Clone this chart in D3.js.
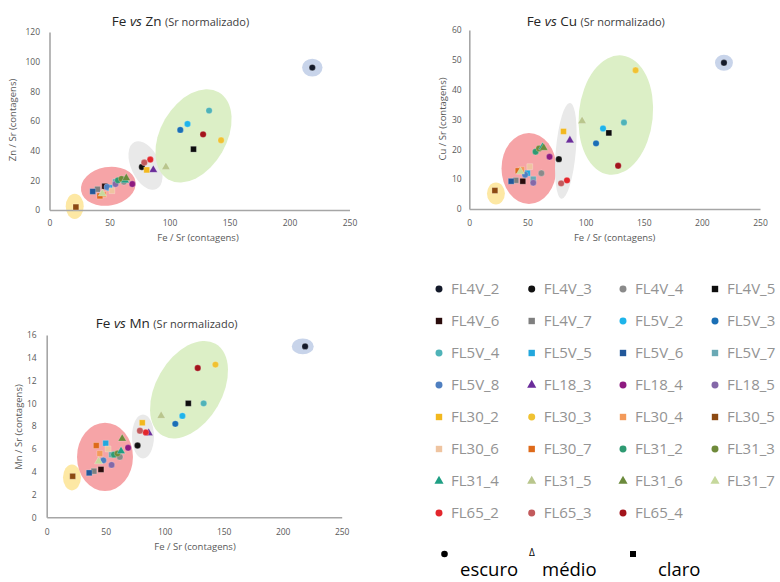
<!DOCTYPE html>
<html>
<head>
<meta charset="utf-8">
<script src="https://cdn.jsdelivr.net/npm/d3@7/dist/d3.min.js"></script>
<style>
  html, body { margin: 0; padding: 0; background: #fff; }
  svg { display: block; font-family: "Open Sans", "Lato", sans-serif; }
</style>
</head>
<body>
<svg id="chart" width="780" height="582"></svg>
<script>
// Samples (Sr-normalised XRF counts)
const samples = ["FL4V_2","FL4V_3","FL4V_4","FL4V_5","FL4V_6","FL4V_7",
  "FL5V_2","FL5V_3","FL5V_4","FL5V_5","FL5V_6","FL5V_7","FL5V_8",
  "FL18_3","FL18_4","FL18_5",
  "FL30_2","FL30_3","FL30_4","FL30_5","FL30_6","FL30_7",
  "FL31_2","FL31_3","FL31_4","FL31_5","FL31_6","FL31_7",
  "FL65_2","FL65_3","FL65_4"];

const feSr = [219, 77, 62, 120, 46, 40, 115, 109, 133, 50, 36, 55, 48, 86.5, 69, 55,
  81, 143, 45, 22, 52, 42, 57, 60, 63, 97, 64, 44, 84, 79, 128];
const znSr = [96, 29, 19, 41, 16, 14, 58, 54, 67, 15, 12.5, 19, 15.5, 27, 17.5, 17.5,
  27, 47, 10.5, 2, 13, 9.5, 20, 21, 20, 29, 21.5, 11, 34, 32, 51];
const cuSr = [49, 16.7, 12, 25.5, 9.3, 9.6, 27, 22, 29, 12, 9.3, 10, 11.5, 23, 17.5, 8.8,
  26, 46.5, 13.2, 6.2, 14.2, 12.8, 19.2, 20.3, 20.8, 29.5, 20.5, 12.5, 9.6, 8.6, 14.5];
const mnSr = [15, 6.3, 5.3, 10, 4.2, 4.05, 8.9, 8.2, 10, 6.5, 3.9, 5.5, 5.0, 7.4, 6.1, 4.6,
  8.3, 13.4, 5.6, 3.6, 6.0, 6.3, 5.5, 5.6, 5.8, 8.9, 6.9, 4.9, 7.45, 7.6, 13.1];

// marker shape: c = escuro (circle), t = médio (triangle), s = claro (square)
const shapes = ["c","c","c","s","s","s","c","c","c","s","s","s","c","t","c","c",
  "s","c","s","s","s","s","c","c","t","t","t","t","c","c","c"];
const colors = ["#141a2a","#111111","#8a8a8a","#0d0d0d","#2a0c0c","#7f7f7f",
  "#1eb4ea","#1a6fb5","#4fb3b8","#23a7dd","#22589a","#6aa9b5","#4f7fc0",
  "#6a2c9a","#8e1a80","#8468a8",
  "#f2b81e","#f0c232","#f39a5a","#8c4a12","#efc4a0","#de6a1a",
  "#2e9a72","#6f8a3a","#1f9f84","#b9c68c","#6b8a3c","#c6d89c",
  "#e3262c","#c25a5c","#a3141c"];

const xTicks = [0, 50, 100, 150, 200, 250];
const groupFills = ["#fde8a4", "#f6a4a7", "#e9e9e9", "#dcefc6", "#c8d4ea"];

// group outlines in data units: [centre Fe, centre Y, half-width Fe, half-height Y, tilt deg]
const znGroups = [[21, 2.5, 7.5, 8.5, 0], [49, 16, 23, 13, -10], [80, 30, 12, 17.5, -25],
  [120, 50, 27.5, 34, 30], [219, 96, 8.5, 6, 0]];
const cuGroups = [[22.9, 5.2, 7.7, 3.7, 0], [51.3, 13.6, 23.6, 11.9, 0], [83, 19.5, 8.6, 16.1, 5],
  [126, 31.5, 31.8, 20.1, 6], [219, 49, 7.7, 2.7, 0]];
const mnGroups = [[21.4, 3.5, 7.6, 1.14, 0], [49.4, 5.3, 23.7, 3.0, 0], [81.6, 7.1, 9.3, 1.93, 0],
  [120.6, 11.2, 28, 4.65, 30], [217, 15, 9.3, 0.7, 0]];

const svg = d3.select("#chart");

const panels = [
  { el: "Zn", vals: znSr, groups: znGroups, yMax: 120, yTicks: d3.range(0, 121, 20),
    left: 49.5, right: 349.5, top: 32, bottom: 210,
    titleX: 180.5, titleY: 26, yTitleX: 16, yTitleY: 120, xTitleX: 198, xTitleY: 241,
    yLabelX: 40, xLabelY: 226, gap: " " },
  { el: "Cu", vals: cuSr, groups: cuGroups, yMax: 60, yTicks: d3.range(0, 61, 10),
    left: 469.3, right: 760, top: 30, bottom: 209,
    titleX: 595.7, titleY: 26, yTitleX: 446, yTitleY: 119, xTitleX: 614.7, xTitleY: 241,
    yLabelX: 461.7, xLabelY: 226, gap: "  " },
  { el: "Mn", vals: mnSr, groups: mnGroups, yMax: 16, yTicks: d3.range(0, 17, 2),
    left: 46.7, right: 341.7, top: 335, bottom: 517.3,
    titleX: 166.7, titleY: 328.3, yTitleX: 22, yTitleY: 427, xTitleX: 195, xTitleY: 550,
    yLabelX: 36.7, xLabelY: 535, gap: "  " }
];

const symbolFor = { c: d3.symbolCircle, s: d3.symbolSquare, t: d3.symbolTriangle };
const sizeFor = { c: 32, s: 34, t: 30 };

panels.forEach(p => {
  const x = d3.scaleLinear().domain([0, 250]).range([p.left, p.right]);
  const y = d3.scaleLinear().domain([0, p.yMax]).range([p.bottom, p.top]);
  const g = svg.append("g");

  // group ellipses
  const kx = x(1) - x(0), ky = y(0) - y(1);
  g.selectAll("ellipse").data(p.groups).join("ellipse")
    .attr("transform", d => `translate(${x(d[0])},${y(d[1])}) rotate(${d[4]})`)
    .attr("rx", d => d[2] * kx)
    .attr("ry", d => d[3] * ky)
    .attr("fill", (d, i) => groupFills[i]);

  // axes
  const xAxis = d3.axisBottom(x).tickValues(xTicks).tickSize(0).tickPadding(0);
  const yAxis = d3.axisLeft(y).tickValues(p.yTicks).tickSize(0).tickPadding(0);
  const gx = g.append("g").attr("transform", `translate(0,${p.bottom})`).call(xAxis);
  const gy = g.append("g").attr("transform", `translate(${p.left},0)`).call(yAxis);
  [gx, gy].forEach(a => {
    a.select(".domain").attr("stroke", "#a6a6a6").attr("stroke-width", 1.6);
    a.selectAll("text").attr("fill", "#595959").attr("font-size", 8.5)
      .attr("font-family", "\"Open Sans\", sans-serif");
  });
  gx.selectAll("text").attr("y", p.xLabelY - p.bottom).attr("dy", 0);
  gy.selectAll("text").attr("x", p.yLabelX - p.left).attr("dy", "0.32em");

  // points
  g.selectAll("path.pt").data(samples).join("path")
    .attr("class", "pt")
    .attr("transform", (d, i) => `translate(${x(feSr[i])},${y(p.vals[i])})`)
    .attr("d", (d, i) => d3.symbol(symbolFor[shapes[i]], sizeFor[shapes[i]])())
    .attr("fill", (d, i) => colors[i])
    .attr("stroke", "#ffffff").attr("stroke-width", 0.4).attr("stroke-opacity", 0.6);

  // title
  const t = g.append("text").attr("x", p.titleX).attr("y", p.titleY)
    .attr("text-anchor", "middle").attr("fill", "#262626").attr("font-size", 13.5);
  t.append("tspan").text("Fe ");
  t.append("tspan").attr("font-style", "italic").text("vs");
  t.append("tspan").text(p.gap + p.el + " ");
  t.append("tspan").attr("font-size", 11).attr("fill", "#404040").text("(Sr normalizado)");

  // axis titles
  g.append("text").attr("x", p.xTitleX).attr("y", p.xTitleY)
    .attr("text-anchor", "middle").attr("fill", "#595959").attr("font-size", 9.5)
    .text("Fe / Sr (contagens)");
  g.append("text")
    .attr("transform", `translate(${p.yTitleX},${p.yTitleY}) rotate(-90)`)
    .attr("text-anchor", "middle").attr("fill", "#595959").attr("font-size", 9.5)
    .text(p.el + " / Sr (contagens)");
});

// legend
const colX = [439, 531.7, 623, 715];
const legend = svg.append("g");
samples.forEach((name, i) => {
  const cx = colX[i % 4], cy = 289 + Math.floor(i / 4) * 32;
  legend.append("path")
    .attr("transform", `translate(${cx},${cy})`)
    .attr("d", d3.symbol(symbolFor[shapes[i]], sizeFor[shapes[i]] * 1.2)())
    .attr("fill", colors[i]);
  legend.append("text").attr("x", cx + 12).attr("y", cy).attr("dy", "0.36em")
    .attr("fill", "#939393").attr("font-size", 15).text(name);
});

// marker key
const key = svg.append("g").attr("fill", "#000");
key.append("circle").attr("cx", 444.5).attr("cy", 554).attr("r", 3.3);
key.append("text").attr("x", 460).attr("y", 576).attr("font-size", 18.5).text("escuro");
key.append("text").attr("x", 529).attr("y", 556).attr("font-size", 10).text("Δ");
key.append("text").attr("x", 542).attr("y", 576).attr("font-size", 18.5).text("médio");
key.append("rect").attr("x", 630).attr("y", 551).attr("width", 6).attr("height", 6);
key.append("text").attr("x", 658).attr("y", 576).attr("font-size", 18.5).text("claro");
</script>
</body>
</html>
